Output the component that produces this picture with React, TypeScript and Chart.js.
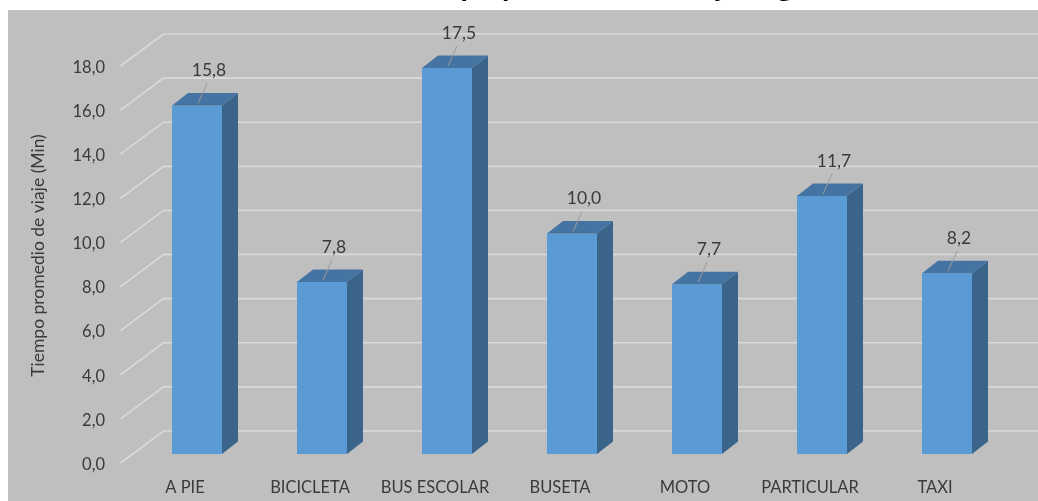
import { useEffect, useRef } from "react";
import { Chart, registerables } from "chart.js";

Chart.register(...registerables);

// Travel modes and their average trip time in minutes
const categories = ["A PIE", "BICICLETA", "BUS ESCOLAR", "BUSETA", "MOTO", "PARTICULAR", "TAXI"];
const travelMinutes = [15.8, 7.8, 17.5, 10.0, 7.7, 11.7, 8.2];
const yMin = 0;
const yMax = 18;
const yStep = 2;

const chartTitle = "Tiempo promedio de viaje según modo";
const yAxisTitle = "Tiempo promedio de viaje (Min)";

const FONT = "Lato, 'Open Sans', sans-serif";
const TEXT = "#3a3a3a";
const BG = "#bfbfbf";
const GRID = "#dadada";
const FRONT = "#5b9bd5";
const SIDE = "#3a6489";
const TOP = "#4574a3";

// pseudo-3D depth of the columns and of the floor / back wall
const DEPTH_X = 16;
const DEPTH_Y = -12.5;
const FLOOR_DX = -14;
const FLOOR_DY = 9;
const WALL_DX = 29;
const WALL_DY = -23;

const fmt = (v: number) => v.toFixed(1).replace(".", ",");

const backdrop = {
  id: "backdrop",
  beforeDraw(chart: any) {
    const { ctx, width, height } = chart;
    ctx.save();
    ctx.fillStyle = "#ffffff";
    ctx.fillRect(0, 0, width, height);
    ctx.fillStyle = BG;
    ctx.fillRect(8, 10, width - 8, height - 10);
    // chart title sits above the visible frame; only its descenders show
    ctx.fillStyle = "#000000";
    ctx.font = `bold 30px ${FONT}`;
    ctx.textAlign = "center";
    ctx.textBaseline = "alphabetic";
    ctx.fillText(chartTitle, 652, -4);
    ctx.restore();
  },
};

const walls = {
  id: "walls",
  beforeDatasetsDraw(chart: any) {
    const { ctx, chartArea, width } = chart;
    const y = chart.scales.y;
    ctx.save();
    ctx.strokeStyle = GRID;
    ctx.lineWidth = 1.6;
    y.ticks.forEach((t: any) => {
      const py = y.getPixelForValue(t.value);
      ctx.beginPath();
      ctx.moveTo(chartArea.left + FLOOR_DX, py + FLOOR_DY);
      ctx.lineTo(chartArea.left + WALL_DX, py + WALL_DY);
      ctx.lineTo(width, py + WALL_DY);
      ctx.stroke();
    });
    ctx.restore();
  },
};

const columns3d = {
  id: "columns3d",
  afterDatasetsDraw(chart: any) {
    const { ctx } = chart;
    const meta = chart.getDatasetMeta(0);
    const values = chart.data.datasets[0].data as number[];
    ctx.save();
    meta.data.forEach((bar: any, i: number) => {
      const { x, y, base, width } = bar.getProps(["x", "y", "base", "width"], true);
      const l = x - width / 2;
      const r = x + width / 2;
      // side face
      ctx.fillStyle = SIDE;
      ctx.beginPath();
      ctx.moveTo(r, y);
      ctx.lineTo(r + DEPTH_X, y + DEPTH_Y);
      ctx.lineTo(r + DEPTH_X, base + DEPTH_Y);
      ctx.lineTo(r, base);
      ctx.closePath();
      ctx.fill();
      // top face
      ctx.fillStyle = TOP;
      ctx.beginPath();
      ctx.moveTo(l, y);
      ctx.lineTo(l + DEPTH_X, y + DEPTH_Y);
      ctx.lineTo(r + DEPTH_X, y + DEPTH_Y);
      ctx.lineTo(r, y);
      ctx.closePath();
      ctx.fill();

      // value label with leader line
      ctx.strokeStyle = "#9a9a9a";
      ctx.lineWidth = 1;
      ctx.beginPath();
      ctx.moveTo(x + 10, y - 22);
      ctx.lineTo(x + 1, y - 2);
      ctx.stroke();
      ctx.fillStyle = TEXT;
      ctx.font = `17.5px ${FONT}`;
      ctx.textAlign = "center";
      ctx.textBaseline = "middle";
      ctx.fillText(fmt(values[i]), x + 12, y - 35);
    });
    ctx.restore();
  },
};

export default function App() {
  const ref = useRef<HTMLCanvasElement | null>(null);

  useEffect(() => {
    if (!ref.current) return;
    const chart = new Chart(ref.current, {
      type: "bar",
      data: {
        labels: categories,
        datasets: [
          {
            data: travelMinutes,
            backgroundColor: FRONT,
            borderWidth: 0,
            barPercentage: 0.4,
            categoryPercentage: 1,
          },
        ],
      },
      options: {
        responsive: false,
        animation: false,
        layout: { padding: { left: 0, right: 28.5, top: 57, bottom: 0 } },
        plugins: {
          legend: { display: false },
          title: { display: false },
          tooltip: { enabled: false },
        },
        scales: {
          x: {
            type: "category",
            grid: { display: false, drawTicks: false },
            border: { display: false },
            ticks: {
              color: TEXT,
              font: { family: FONT, size: 16.5 },
              labelOffset: -12,
              padding: 24,
              maxRotation: 0,
              autoSkip: false,
            },
            afterFit(scale: any) {
              scale.height = 47;
            },
          },
          y: {
            min: yMin,
            max: yMax,
            grid: { display: false, drawTicks: false },
            border: { display: false },
            ticks: {
              stepSize: yStep,
              color: TEXT,
              font: { family: FONT, size: 16.5 },
              labelOffset: 10.5,
              padding: 29.5,
              callback: (v: any) => fmt(Number(v)),
            },
            title: {
              display: true,
              text: yAxisTitle,
              color: TEXT,
              font: { family: FONT, size: 17.5 },
              padding: { top: 27.5, bottom: 0 },
            },
            afterFit(scale: any) {
              scale.width = 134.5;
            },
          },
        },
      },
      plugins: [backdrop, walls, columns3d],
    });
    return () => chart.destroy();
  }, []);

  return (
    <div style={{ position: "absolute", left: 0, top: 0, width: 1038, height: 501 }}>
      <canvas ref={ref} width={1038} height={501} style={{ display: "block" }} />
    </div>
  );
}
